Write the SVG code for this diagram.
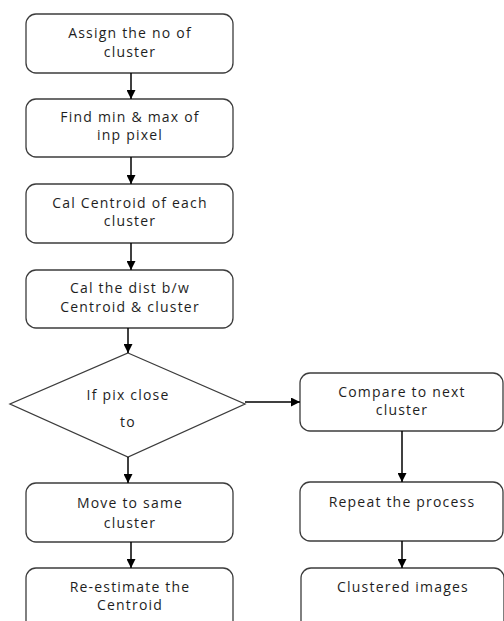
<svg xmlns="http://www.w3.org/2000/svg" width="504" height="621" viewBox="0 0 504 621">
<defs>
<marker id="ah" viewBox="0 0 10 10" refX="10" refY="5" markerWidth="9" markerHeight="9" markerUnits="userSpaceOnUse" orient="auto">
<path d="M0,0 L10,5 L0,10 z" fill="#000"/>
</marker>
<style>
.box{fill:#fff;stroke:#3c3c3c;stroke-width:1.3}
.t{font-family:"Open Sans","DejaVu Sans",sans-serif;font-size:14px;letter-spacing:1.2px;fill:#1e1e1e;text-anchor:middle}
.c{stroke:#000;stroke-width:1.5;fill:none;marker-end:url(#ah)}
</style>
</defs>
<rect width="504" height="621" fill="#fff"/>
<g id="n1"><rect class="box" x="26" y="14" width="207" height="59" rx="10"/><text class="t" x="130" y="38">Assign the no of</text><text class="t" x="130" y="57">cluster</text></g>
<g id="n2"><rect class="box" x="26" y="99" width="207" height="58" rx="10"/><text class="t" x="130" y="122">Find min &amp; max of</text><text class="t" x="130" y="140">inp pixel</text></g>
<g id="n3"><rect class="box" x="26" y="184" width="207" height="59" rx="10"/><text class="t" x="130" y="208">Cal Centroid of each</text><text class="t" x="130" y="226">cluster</text></g>
<g id="n4"><rect class="box" x="26" y="270" width="207" height="58" rx="10"/><text class="t" x="130" y="293">Cal the dist b/w</text><text class="t" x="130" y="312">Centroid &amp; cluster</text></g>
<g id="n5"><polygon class="box" points="128,353 245,404 128,457 10,404"/><text class="t" x="128" y="400">If pix close</text><text class="t" x="128" y="427">to</text></g>
<g id="n6"><rect class="box" x="26" y="483" width="207" height="59" rx="10"/><text class="t" x="130" y="508">Move to same</text><text class="t" x="130" y="528">cluster</text></g>
<g id="n7"><rect class="box" x="26" y="568" width="207" height="70" rx="10"/><text class="t" x="130" y="592">Re-estimate the</text><text class="t" x="130" y="610">Centroid</text></g>
<g id="n8"><rect class="box" x="300" y="373" width="203" height="58" rx="10"/><text class="t" x="402" y="397">Compare to next</text><text class="t" x="402" y="415">cluster</text></g>
<g id="n9"><rect class="box" x="300" y="482" width="203" height="59" rx="10"/><text class="t" x="402" y="507">Repeat the process</text></g>
<g id="n10"><rect class="box" x="301" y="568" width="203" height="70" rx="10"/><text class="t" x="403" y="592">Clustered images</text></g>
<g id="connectors">
<line class="c" x1="131" y1="73" x2="131" y2="99"/>
<line class="c" x1="131" y1="157" x2="131" y2="184"/>
<line class="c" x1="131" y1="243" x2="131" y2="270"/>
<line class="c" x1="128" y1="328" x2="128" y2="353"/>
<line class="c" x1="128" y1="457" x2="128" y2="483"/>
<line class="c" x1="131" y1="542" x2="131" y2="568"/>
<line class="c" x1="245" y1="402" x2="300" y2="402"/>
<line class="c" x1="402" y1="431" x2="402" y2="482"/>
<line class="c" x1="402" y1="541" x2="402" y2="568"/>
</g>
</svg>
